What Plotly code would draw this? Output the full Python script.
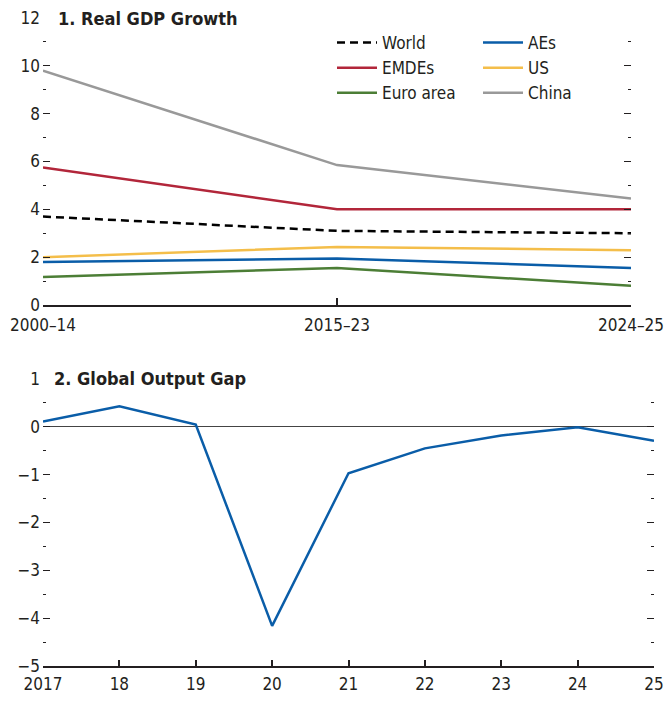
import plotly.graph_objects as go

# ---- Data ----
periods = ["2000–14", "2015–23", "2024–25"]
world = [3.7, 3.1, 3.0]
emdes = [5.75, 4.0, 4.0]
euro_area = [1.17, 1.55, 0.8]
aes = [1.8, 1.94, 1.55]
us = [2.0, 2.43, 2.29]
china = [9.8, 5.85, 4.45]

years = [2017, 2018, 2019, 2020, 2021, 2022, 2023, 2024, 2025]
year_labels = ["2017", "18", "19", "20", "21", "22", "23", "24", "25"]
output_gap = [0.11, 0.43, 0.05, -4.16, -0.97, -0.45, -0.18, -0.01, -0.29]

FONT = "DejaVu Sans Condensed, DejaVu Sans, sans-serif"
TXT = "#231F20"
BLUE = "#0A5DA8"
RED = "#B2263A"
GREEN = "#4C7E36"
YELLOW = "#F4BE4A"
GREY = "#999999"

W, H = 665, 701
PLOT_L, PLOT_R, PLOT_T, PLOT_B = 43, 654, 18, 666  # pixels of the plotting region
ML, MR, MT, MB = PLOT_L, W - PLOT_R, PLOT_T, H - PLOT_B
PW = W - ML - MR
PH = H - MT - MB

def fx(px):  # pixel x -> paper fraction
    return (px - PLOT_L) / PW

def fy(py):  # pixel y -> paper fraction
    return (PLOT_B - py) / PH

fig = go.Figure()

series = [
    ("World", world, dict(color="black", width=2.5, dash="8px,5px"), "legend"),
    ("EMDEs", emdes, dict(color=RED, width=2.5), "legend"),
    ("Euro area", euro_area, dict(color=GREEN, width=2.5), "legend"),
    ("AEs", aes, dict(color=BLUE, width=2.5), "legend2"),
    ("US", us, dict(color=YELLOW, width=2.5), "legend2"),
    ("China", china, dict(color=GREY, width=2.5), "legend2"),
]
for name, vals, line, lg in series:
    fig.add_trace(go.Scatter(x=periods, y=vals, mode="lines", name=name,
                             line=line, legend=lg, xaxis="x", yaxis="y"))

fig.add_trace(go.Scatter(x=years, y=output_gap, mode="lines", name="Output gap",
                         line=dict(color=BLUE, width=2.5), showlegend=False,
                         xaxis="x2", yaxis="y2"))

FS = 17
tickfont = dict(family=FONT, size=FS, color=TXT)
legfont = dict(family=FONT, size=FS, color=TXT)

fig.update_layout(
    width=W, height=H,
    margin=dict(l=ML, r=MR, t=MT, b=MB, autoexpand=False),
    plot_bgcolor="white", paper_bgcolor="white",
    font=dict(family=FONT, size=FS, color=TXT),
    xaxis=dict(domain=[0, fx(631)], type="category", range=[0, 2],
               showline=True, linecolor=TXT, linewidth=1.5,
               ticks="inside", ticklen=7, tickcolor=TXT, tickwidth=1.5,
               showgrid=False, zeroline=False, tickfont=tickfont,
               ticklabelstandoff=4, ticklabeloverflow="allow",
               anchor="y", automargin=False),
    yaxis=dict(domain=[fy(305), fy(18)], range=[0, 12], tickvals=[0, 2, 4, 6, 8, 10, 12],
               ticks="inside", ticklen=7, tickcolor=TXT, tickwidth=1.2,
               mirror="ticks", showline=False, showgrid=False, zeroline=False,
               minor=dict(dtick=1, tick0=0, ticks="inside", ticklen=3, tickcolor=TXT, tickwidth=1.2, showgrid=False),
               tickfont=tickfont, ticklabelstandoff=2, ticklabeloverflow="allow",
               anchor="x", automargin=False),
    xaxis2=dict(domain=[0, 1], range=[2017, 2025], tickvals=years, ticktext=year_labels,
                showline=True, linecolor=TXT, linewidth=1.5,
                ticks="inside", ticklen=6, tickcolor=TXT, tickwidth=1.5,
                showgrid=False, zeroline=False, tickfont=tickfont,
                ticklabelstandoff=2, ticklabeloverflow="allow",
                anchor="y2", automargin=False),
    yaxis2=dict(domain=[0, fy(379)], range=[-5, 1], tickvals=[-5, -4, -3, -2, -1, 0, 1],
                ticktext=["−5", "−4", "−3", "−2", "−1", "0", "1"],
                ticks="inside", ticklen=7, tickcolor=TXT, tickwidth=1.2,
                mirror="ticks", showline=False, showgrid=False,
                zeroline=True, zerolinecolor="#444444", zerolinewidth=1,
                minor=dict(dtick=0.5, tick0=0, ticks="inside", ticklen=3, tickcolor=TXT, tickwidth=1.2, showgrid=False),
                tickfont=tickfont, ticklabelstandoff=2, ticklabeloverflow="allow",
                anchor="x2", automargin=False),
    legend=dict(x=fx(332), y=fy(25), xanchor="left", yanchor="top",
                bgcolor="rgba(0,0,0,0)", font=legfont, tracegroupgap=0,
                itemwidth=40),
    legend2=dict(x=fx(478), y=fy(25), xanchor="left", yanchor="top",
                 bgcolor="rgba(0,0,0,0)", font=legfont, tracegroupgap=0,
                 itemwidth=40),
    showlegend=True,
)

fig.add_annotation(text="<b>1. Real GDP Growth</b>", xref="paper", yref="y",
                   x=fx(56), y=12, xanchor="left", yanchor="middle", showarrow=False,
                   font=dict(family=FONT, size=18, color=TXT))
fig.add_annotation(text="<b>2. Global Output Gap</b>", xref="paper", yref="y2",
                   x=fx(52), y=1, xanchor="left", yanchor="middle", showarrow=False,
                   font=dict(family=FONT, size=18, color=TXT))

fig.write_html(
    "out.html",
    config={"displayModeBar": False},
    post_script="document.body.style.margin='0';document.documentElement.style.overflow='hidden';document.body.style.overflow='hidden';",
)
